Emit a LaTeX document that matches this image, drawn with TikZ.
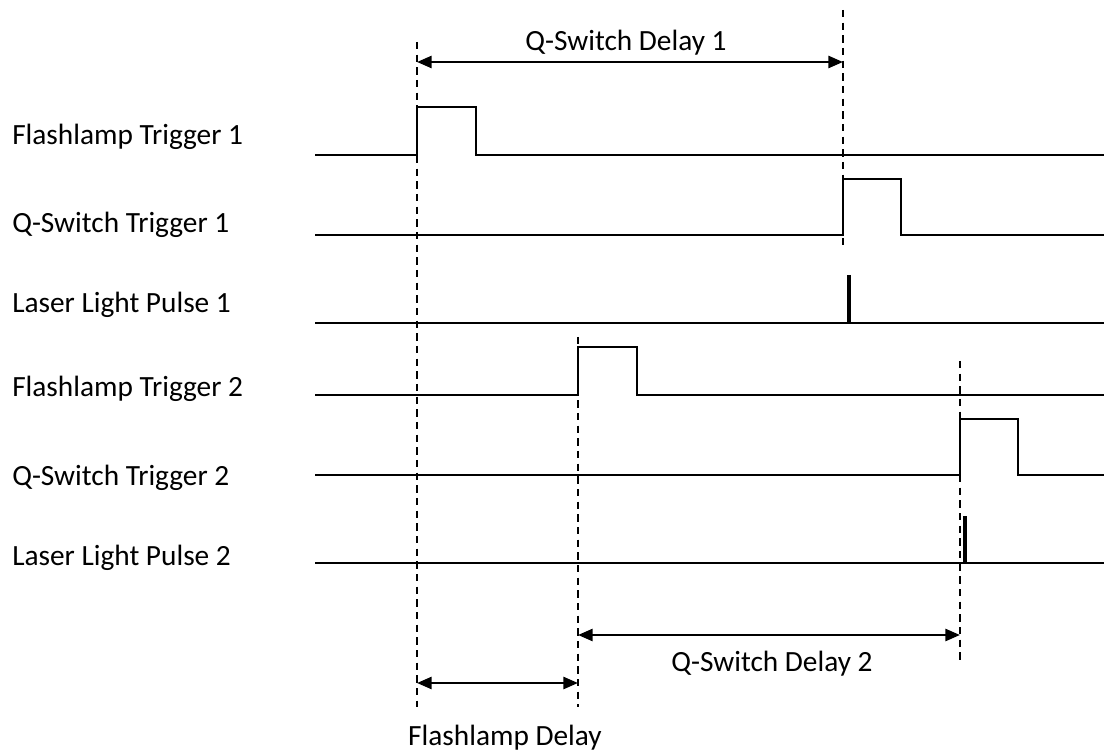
\documentclass[tikz,border=0pt]{standalone}
\usepackage{fontspec}
\setmainfont{Carlito}
\usetikzlibrary{arrows.meta}
\begin{document}
\begin{tikzpicture}[x=0.75pt,y=-0.75pt,
  sig/.style={line width=1.6pt,line join=miter},
  laser/.style={line width=3pt},
  guide/.style={line width=1.4pt,dash pattern=on 5.5pt off 4pt},
  dim/.style={line width=2pt,{Triangle[length=11pt,width=9pt]}-{Triangle[length=11pt,width=9pt]}},
  lbl/.style={anchor=base west,inner sep=0pt,font=\fontsize{22}{26}\selectfont},
  dlbl/.style={inner sep=0pt,font=\fontsize{22}{26}\selectfont}]
\useasboundingbox (0,0) rectangle (1104,752);
% labels
\node[lbl] (l1) at (12,145) {Flashlamp Trigger 1};
\node[lbl] (l2) at (12,233) {Q-Switch Trigger 1};
\node[lbl] (l3) at (12,313) {Laser Light Pulse 1};
\node[lbl] (l4) at (12,397) {Flashlamp Trigger 2};
\node[lbl] (l5) at (12,485) {Q-Switch Trigger 2};
\node[lbl] (l6) at (12,565) {Laser Light Pulse 2};
% signals
\draw[sig] (315,155) -- (417,155) -- (417,107) -- (476,107) -- (476,155) -- (1104,155);
\draw[sig] (315,235) -- (843,235) -- (843,179) -- (901,179) -- (901,235) -- (1104,235);
\draw[sig] (315,323) -- (1104,323);
\draw[laser] (849,275) -- (849,323);
\draw[sig] (315,395) -- (578,395) -- (578,347) -- (637,347) -- (637,395) -- (1104,395);
\draw[sig] (315,475) -- (960,475) -- (960,419) -- (1018,419) -- (1018,475) -- (1104,475);
\draw[sig] (315,563) -- (1104,563);
\draw[laser] (965,516) -- (965,563);
% guides
\coordinate (g1t) at (417,42);  \coordinate (g1b) at (417,707);
\coordinate (g2t) at (843,10);  \coordinate (g2b) at (843,250);
\coordinate (g3t) at (578,337); \coordinate (g3b) at (578,707);
\coordinate (g4t) at (960,361); \coordinate (g4b) at (960,660);
\draw[guide] (g1t) -- (g1b);
\draw[guide] (g2t) -- (g2b);
\draw[guide] (g3t) -- (g3b);
\draw[guide] (g4t) -- (g4b);
% dimension arrows
\coordinate (a1) at (417,62);  \coordinate (b1) at (843,62);
\coordinate (a2) at (578,635); \coordinate (b2) at (960,635);
\coordinate (a3) at (417,683); \coordinate (b3) at (578,683);
\draw[dim] (a1) -- (b1);
\draw[dim] (a2) -- (b2);
\draw[dim] (a3) -- (b3);
\node[dlbl] (d1) at (626,43) {Q-Switch Delay 1};
\node[dlbl] (d2) at (772,664) {Q-Switch Delay 2};
\node[dlbl] (d3) at (505,738) {Flashlamp Delay};
\end{tikzpicture}
\end{document}
